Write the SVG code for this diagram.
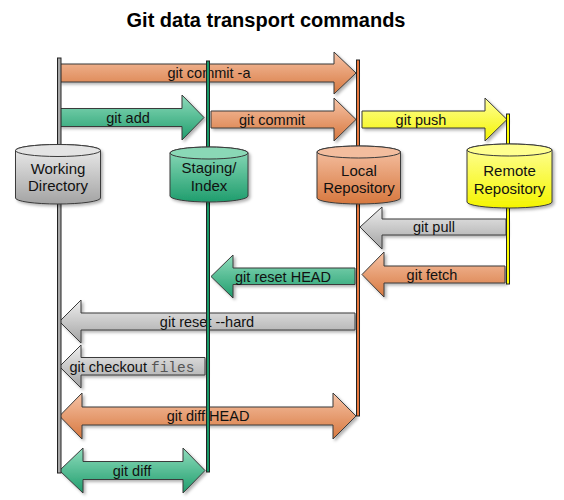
<svg xmlns="http://www.w3.org/2000/svg" width="564" height="500" viewBox="0 0 564 500">
<defs>
<linearGradient id="gOr" x1="0" y1="0" x2="0" y2="1"><stop offset="0" stop-color="#f6c3a6"/><stop offset="1" stop-color="#d7783f"/></linearGradient>
<linearGradient id="gGr" x1="0" y1="0" x2="0" y2="1"><stop offset="0" stop-color="#8fdcbc"/><stop offset="1" stop-color="#1f9d6d"/></linearGradient>
<linearGradient id="gGy" x1="0" y1="0" x2="0" y2="1"><stop offset="0" stop-color="#eeeeee"/><stop offset="1" stop-color="#a3a3a3"/></linearGradient>
<linearGradient id="gYe" x1="0" y1="0" x2="0" y2="1"><stop offset="0" stop-color="#ffff9a"/><stop offset="1" stop-color="#f4f400"/></linearGradient>
<filter id="sh" x="-10%" y="-10%" width="130%" height="140%"><feDropShadow dx="2" dy="2" stdDeviation="1.5" flood-color="#000" flood-opacity="0.3"/></filter>
</defs>
<style>
.ar{stroke:#3a3a3a;stroke-width:1;filter:url(#sh)}
.or{fill:url(#gOr)}.gr{fill:url(#gGr)}.gy{fill:url(#gGy)}.ye{fill:url(#gYe)}
.lbl{font-family:"Liberation Sans",Arial,sans-serif;font-size:14.5px;fill:#111;text-anchor:middle}
.mono{font-family:"Liberation Mono","Courier New",monospace;fill:#555}
.cyl{stroke:#3a3a3a;stroke-width:1;filter:url(#sh)}
.ct{font-family:"Liberation Sans",Arial,sans-serif;font-size:15px;fill:#111;text-anchor:middle}
.vl{stroke:#222;stroke-width:1}
.title{font-family:"Liberation Sans",Arial,sans-serif;font-size:20px;font-weight:bold;fill:#000;text-anchor:middle}
</style>
<rect width="564" height="500" fill="#fff"/>
<text class="title" x="266" y="27">Git data transport commands</text>

<g id="connectors">
<g id="git-commit-a"><path class="ar or" d="M59,64 H334 V52 L356,73 L334,94 V82 H59 Z"/><text class="lbl" x="209" y="78">git commit -a</text></g>
<g id="git-add"><path class="ar gr" d="M59,108.5 H182 V95 L204,117.5 L182,140 V126.5 H59 Z"/><text class="lbl" x="128" y="122.5">git add</text></g>
<g id="git-commit"><path class="ar or" d="M211,111 H334 V98 L356,119.5 L334,141 V128 H211 Z"/><text class="lbl" x="272" y="124.5">git commit</text></g>
<g id="git-push"><path class="ar ye" d="M362,111 H485 V98 L507,119.5 L485,141 V128 H362 Z"/><text class="lbl" x="421" y="124.5">git push</text></g>
<g id="git-pull"><path class="ar gy" d="M506,219 H382 V207 L360,227 L382,249 V235 H506 Z"/><text class="lbl" x="434" y="232">git pull</text></g>
<g id="git-fetch"><path class="ar or" d="M505,266 H384 V252 L362,274.5 L384,297 V283 H505 Z"/><text class="lbl" x="432" y="279.5">git fetch</text></g>
<g id="git-reset-head"><path class="ar gr" d="M355,268 H233 V255 L211,276.5 L233,298 V284.5 H355 Z"/><text class="lbl" x="283" y="281.5">git reset HEAD</text></g>
<g id="git-reset-hard"><path class="ar gy" d="M355,313 H81 V300 L59.5,321.5 L81,343 V330 H355 Z"/><text class="lbl" x="207" y="326.5">git reset --hard</text></g>
<g id="git-checkout"><path class="ar gy" d="M205,357.5 H81 V345 L59.5,366.5 L81,388 V375 H205 Z"/><text class="lbl" x="132" y="371.5">git checkout <tspan class="mono">files</tspan></text></g>
<g id="git-diff-head"><path class="ar or" d="M82,407 H333 V393 L356,416 L333,439 V425 H82 V439 L59.5,416 L82,393 Z"/><text class="lbl" x="208" y="421">git diff HEAD</text></g>
<g id="git-diff"><path class="ar gr" d="M83,461.5 H183 V448 L205,470.5 L183,493 V479.5 H83 V493 L59.5,470.5 L83,448 Z"/><text class="lbl" x="132" y="475.5">git diff</text></g>
</g>

<g id="lanes">
<rect class="vl" x="57.5" y="58" width="3.5" height="415" fill="#a8a8a8"/>
<rect class="vl" x="206.5" y="61" width="3" height="411" fill="#1a9a68"/>
<rect class="vl" x="356.5" y="60" width="3" height="356" fill="#e8793f"/>
<rect class="vl" x="506.5" y="114" width="3" height="170" fill="#ffff00"/>
</g>

<g id="working-directory">
<path class="cyl gy" d="M15.5,150.5 A42.5,6 0 0 1 100.5,150.5 V198 A42.5,6 0 0 1 15.5,198 Z"/>
<ellipse cx="58" cy="150.5" rx="42.5" ry="6" fill="#e4e4e4" stroke="#3a3a3a"/>
<text class="ct" x="58" y="173.5">Working</text><text class="ct" x="58" y="191">Directory</text>
</g>
<g id="staging-index">
<path class="cyl gr" d="M170,153 A39,6 0 0 1 248,153 V196 A39,6 0 0 1 170,196 Z"/>
<ellipse cx="209" cy="153" rx="39" ry="6" fill="#8ad8b6" stroke="#3a3a3a"/>
<text class="ct" x="209" y="172.5">Staging/</text><text class="ct" x="209" y="190.5">Index</text>
</g>
<g id="local-repository">
<path class="cyl or" d="M317,152 A41.75,6 0 0 1 400.5,152 V198 A41.75,6 0 0 1 317,198 Z"/>
<ellipse cx="358.75" cy="152" rx="41.75" ry="6" fill="#f3bd9e" stroke="#3a3a3a"/>
<text class="ct" x="359" y="175.5">Local</text><text class="ct" x="359" y="193">Repository</text>
</g>
<g id="remote-repository">
<path class="cyl ye" d="M467,150 A42.5,6 0 0 1 552,150 V202 A42.5,6 0 0 1 467,202 Z"/>
<ellipse cx="509.5" cy="150" rx="42.5" ry="6" fill="#ffff90" stroke="#3a3a3a"/>
<text class="ct" x="509.5" y="175.5">Remote</text><text class="ct" x="509.5" y="193.5">Repository</text>
</g>
</svg>
